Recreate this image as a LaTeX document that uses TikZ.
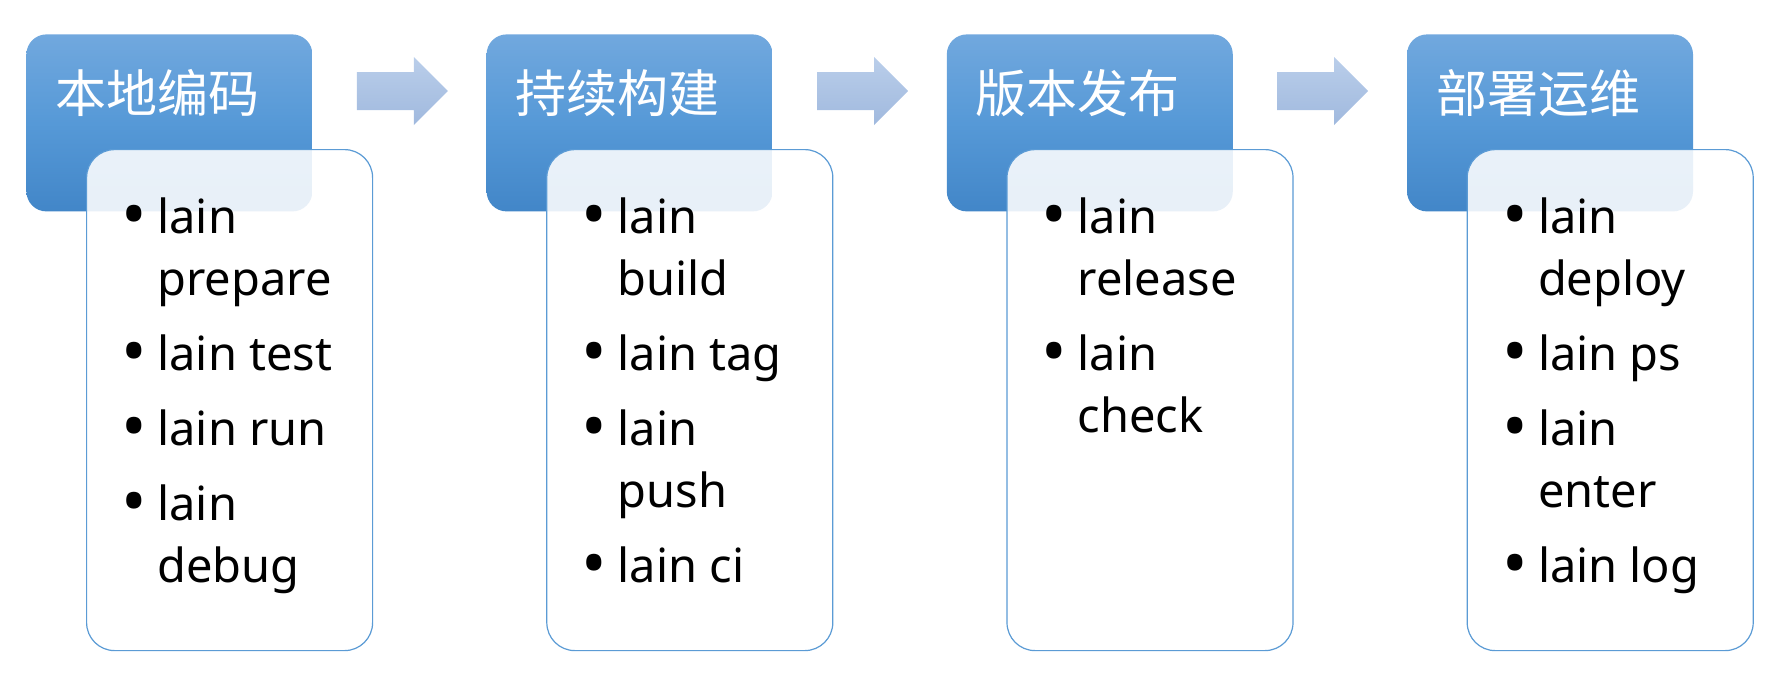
\documentclass[tikz,border=0pt]{standalone}
\usepackage{fontspec}
\setmainfont{Noto Sans}
\newfontfamily\cjk{Noto Sans CJK SC}
\usetikzlibrary{positioning}
\definecolor{headtop}{HTML}{71A8DE}
\definecolor{headmid}{HTML}{5699D7}
\definecolor{headbot}{HTML}{4286C8}
\definecolor{cardline}{HTML}{5B9BD5}
\definecolor{arrtop}{HTML}{BACEEA}
\definecolor{arrbot}{HTML}{A0B9DE}
\newcommand\bul{\makebox[18pt][l]{\raisebox{-2.6pt}{\fontsize{34}{31}\selectfont\textbullet}}}
\newcommand\ind{\hspace*{18pt}}

\begin{document}
\begin{tikzpicture}[
  head/.style={rounded corners=10pt, top color=headtop, bottom color=headbot, middle color=headmid,
    text=white, font=\cjk\fontsize{25.5}{30}\selectfont, align=left, text width=114pt,
    inner xsep=14.5pt, inner ysep=0pt, text height=39pt, text depth=49.5pt},
  card/.style={draw=cardline, line width=0.6pt, rounded corners=14pt, fill=white, fill opacity=0.88,
    minimum width=143pt, minimum height=250.5pt, inner sep=0pt},
  cmds/.style={align=left, inner sep=0pt, font=\fontsize{23.5}{31}\selectfont},
  blockarrow/.style={top color=arrtop, bottom color=arrbot}]
\useasboundingbox (0,0) rectangle (894pt,-340.5pt);
% stage headers
\node[head, anchor=north west] (codeHead) at (13pt,-17pt) {本地编码};
\node[head, right=86.7pt of codeHead] (buildHead) {持续构建};
\node[head, right=86.7pt of buildHead] (releaseHead) {版本发布};
\node[head, right=86.7pt of releaseHead] (opsHead) {部署运维};
% arrows between stages
\foreach \a in {codeHead, buildHead, releaseHead}
  \shade[blockarrow, shift={(\a.north east)}] (22pt,-19pt) -- (50.5pt,-19pt) -- (50.5pt,-11.5pt)
    -- (67.5pt,-28.5pt) -- (50.5pt,-45.5pt) -- (50.5pt,-38pt) -- (22pt,-38pt) -- cycle;
% command cards
\node[card, below right=57.5pt and 30pt of codeHead.north west] (codeCard) {};
\node[card, below right=57.5pt and 30pt of buildHead.north west] (buildCard) {};
\node[card, below right=57.5pt and 30pt of releaseHead.north west] (releaseCard) {};
\node[card, below right=57.5pt and 30pt of opsHead.north west] (opsCard) {};
\node[cmds, below right=24.3pt and 17.5pt of codeCard.north west] (codeList)
  {\bul lain\\\ind prepare\\[6.5pt]\bul lain test\\[6.5pt]\bul lain run\\[6.5pt]\bul lain\\\ind debug};
\node[cmds, below right=24.3pt and 17.5pt of buildCard.north west] (buildList)
  {\bul lain\\\ind build\\[6.5pt]\bul lain tag\\[6.5pt]\bul lain\\\ind push\\[6.5pt]\bul lain ci};
\node[cmds, below right=24.3pt and 17.5pt of releaseCard.north west] (releaseList)
  {\bul lain\\\ind release\\[6.5pt]\bul lain\\\ind check};
\node[cmds, below right=24.3pt and 17.5pt of opsCard.north west] (opsList)
  {\bul lain\\\ind deploy\\[6.5pt]\bul lain ps\\[6.5pt]\bul lain\\\ind enter\\[6.5pt]\bul lain log};
\end{tikzpicture}
\end{document}
